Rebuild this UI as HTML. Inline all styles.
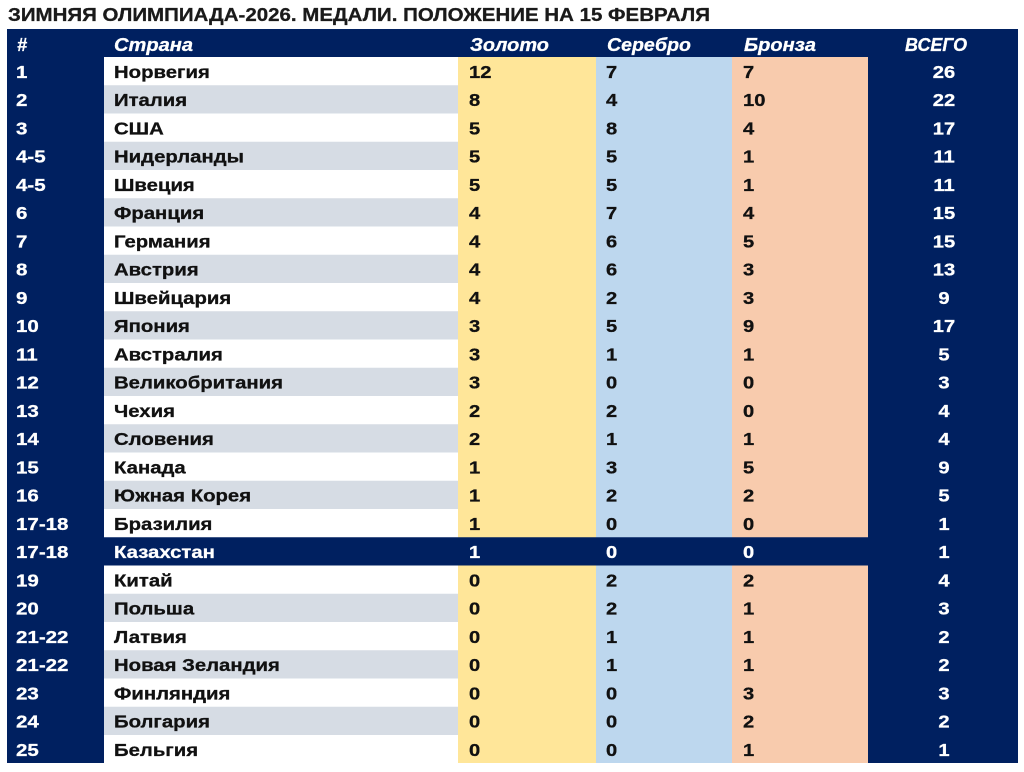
<!DOCTYPE html>
<html><head><meta charset="utf-8"><style>
html,body{margin:0;padding:0;background:#fff;}
svg{display:block;}
</style></head><body>
<svg width="1024" height="772" viewBox="0 0 1024 772" xmlns="http://www.w3.org/2000/svg" font-family="'Liberation Sans', Arial, sans-serif" font-weight="bold">
<rect x="0" y="0" width="1024" height="772" fill="#fff"/>
<text x="8" y="21" font-size="18.5" fill="#1a1a1a" stroke="#1a1a1a" stroke-width="0.3" textLength="702" lengthAdjust="spacingAndGlyphs">ЗИМНЯЯ ОЛИМПИАДА-2026. МЕДАЛИ. ПОЛОЖЕНИЕ НА 15 ФЕВРАЛЯ</text>
<rect x="7" y="29" width="1011" height="734" fill="#002060"/>
<rect x="104" y="57" width="354" height="706" fill="#ffffff"/>
<g fill="#d6dce4">
<rect x="104" y="85.25" width="354" height="28.25"/>
<rect x="104" y="141.75" width="354" height="28.25"/>
<rect x="104" y="198.25" width="354" height="28.25"/>
<rect x="104" y="254.75" width="354" height="28.25"/>
<rect x="104" y="311.25" width="354" height="28.25"/>
<rect x="104" y="367.75" width="354" height="28.25"/>
<rect x="104" y="424.25" width="354" height="28.25"/>
<rect x="104" y="480.75" width="354" height="28.25"/>
<rect x="104" y="593.75" width="354" height="28.25"/>
<rect x="104" y="650.25" width="354" height="28.25"/>
<rect x="104" y="706.75" width="354" height="28.25"/>
</g>
<rect x="458" y="57" width="138" height="706" fill="#ffe699"/>
<rect x="596" y="57" width="136" height="706" fill="#bdd7ee"/>
<rect x="732" y="57" width="136" height="706" fill="#f8cbad"/>
<rect x="104" y="537.25" width="764" height="28.25" fill="#002060"/>

<g fill="#ffffff" stroke="#ffffff" stroke-width="0.3" font-style="italic" font-size="18">
<text x="17" y="51">#</text>
<text x="114" y="51" textLength="79" lengthAdjust="spacingAndGlyphs">Страна</text>
<text x="470" y="51" textLength="79" lengthAdjust="spacingAndGlyphs">Золото</text>
<text x="607" y="51" textLength="84" lengthAdjust="spacingAndGlyphs">Серебро</text>
<text x="744" y="51" textLength="72" lengthAdjust="spacingAndGlyphs">Бронза</text>
<text x="905" y="51" textLength="62" lengthAdjust="spacingAndGlyphs">ВСЕГО</text>
</g>

<g font-size="18" stroke-width="0.3">
<!-- rank -->
<g transform="translate(16,0) scale(1.14,1)" fill="#ffffff" stroke="#ffffff">
<text x="0" y="78">1</text>
<text x="0" y="106.25">2</text>
<text x="0" y="134.5">3</text>
<text x="0" y="162.75">4-5</text>
<text x="0" y="191">4-5</text>
<text x="0" y="219.25">6</text>
<text x="0" y="247.5">7</text>
<text x="0" y="275.75">8</text>
<text x="0" y="304">9</text>
<text x="0" y="332.25">10</text>
<text x="0" y="360.5">11</text>
<text x="0" y="388.75">12</text>
<text x="0" y="417">13</text>
<text x="0" y="445.25">14</text>
<text x="0" y="473.5">15</text>
<text x="0" y="501.75">16</text>
<text x="0" y="530">17-18</text>
<text x="0" y="558.25">17-18</text>
<text x="0" y="586.5">19</text>
<text x="0" y="614.75">20</text>
<text x="0" y="643">21-22</text>
<text x="0" y="671.25">21-22</text>
<text x="0" y="699.5">23</text>
<text x="0" y="727.75">24</text>
<text x="0" y="756">25</text>
</g>
<!-- names -->
<g transform="translate(114,0) scale(1.13,1)" fill="#111111" stroke="#111111">
<text x="0" y="78">Норвегия</text>
<text x="0" y="106.25">Италия</text>
<text x="0" y="134.5">США</text>
<text x="0" y="162.75">Нидерланды</text>
<text x="0" y="191">Швеция</text>
<text x="0" y="219.25">Франция</text>
<text x="0" y="247.5">Германия</text>
<text x="0" y="275.75">Австрия</text>
<text x="0" y="304">Швейцария</text>
<text x="0" y="332.25">Япония</text>
<text x="0" y="360.5">Австралия</text>
<text x="0" y="388.75">Великобритания</text>
<text x="0" y="417">Чехия</text>
<text x="0" y="445.25">Словения</text>
<text x="0" y="473.5">Канада</text>
<text x="0" y="501.75">Южная Корея</text>
<text x="0" y="530">Бразилия</text>
<text x="0" y="558.25" fill="#ffffff" stroke="#ffffff">Казахстан</text>
<text x="0" y="586.5">Китай</text>
<text x="0" y="614.75">Польша</text>
<text x="0" y="643">Латвия</text>
<text x="0" y="671.25">Новая Зеландия</text>
<text x="0" y="699.5">Финляндия</text>
<text x="0" y="727.75">Болгария</text>
<text x="0" y="756">Бельгия</text>
</g>
<!-- gold -->
<g transform="translate(469,0) scale(1.12,1)" fill="#111111" stroke="#111111">
<text x="0" y="78">12</text>
<text x="0" y="106.25">8</text>
<text x="0" y="134.5">5</text>
<text x="0" y="162.75">5</text>
<text x="0" y="191">5</text>
<text x="0" y="219.25">4</text>
<text x="0" y="247.5">4</text>
<text x="0" y="275.75">4</text>
<text x="0" y="304">4</text>
<text x="0" y="332.25">3</text>
<text x="0" y="360.5">3</text>
<text x="0" y="388.75">3</text>
<text x="0" y="417">2</text>
<text x="0" y="445.25">2</text>
<text x="0" y="473.5">1</text>
<text x="0" y="501.75">1</text>
<text x="0" y="530">1</text>
<text x="0" y="558.25" fill="#ffffff" stroke="#ffffff">1</text>
<text x="0" y="586.5">0</text>
<text x="0" y="614.75">0</text>
<text x="0" y="643">0</text>
<text x="0" y="671.25">0</text>
<text x="0" y="699.5">0</text>
<text x="0" y="727.75">0</text>
<text x="0" y="756">0</text>
</g>
<!-- silver -->
<g transform="translate(606,0) scale(1.12,1)" fill="#111111" stroke="#111111">
<text x="0" y="78">7</text>
<text x="0" y="106.25">4</text>
<text x="0" y="134.5">8</text>
<text x="0" y="162.75">5</text>
<text x="0" y="191">5</text>
<text x="0" y="219.25">7</text>
<text x="0" y="247.5">6</text>
<text x="0" y="275.75">6</text>
<text x="0" y="304">2</text>
<text x="0" y="332.25">5</text>
<text x="0" y="360.5">1</text>
<text x="0" y="388.75">0</text>
<text x="0" y="417">2</text>
<text x="0" y="445.25">1</text>
<text x="0" y="473.5">3</text>
<text x="0" y="501.75">2</text>
<text x="0" y="530">0</text>
<text x="0" y="558.25" fill="#ffffff" stroke="#ffffff">0</text>
<text x="0" y="586.5">2</text>
<text x="0" y="614.75">2</text>
<text x="0" y="643">1</text>
<text x="0" y="671.25">1</text>
<text x="0" y="699.5">0</text>
<text x="0" y="727.75">0</text>
<text x="0" y="756">0</text>
</g>
<!-- bronze -->
<g transform="translate(743,0) scale(1.12,1)" fill="#111111" stroke="#111111">
<text x="0" y="78">7</text>
<text x="0" y="106.25">10</text>
<text x="0" y="134.5">4</text>
<text x="0" y="162.75">1</text>
<text x="0" y="191">1</text>
<text x="0" y="219.25">4</text>
<text x="0" y="247.5">5</text>
<text x="0" y="275.75">3</text>
<text x="0" y="304">3</text>
<text x="0" y="332.25">9</text>
<text x="0" y="360.5">1</text>
<text x="0" y="388.75">0</text>
<text x="0" y="417">0</text>
<text x="0" y="445.25">1</text>
<text x="0" y="473.5">5</text>
<text x="0" y="501.75">2</text>
<text x="0" y="530">0</text>
<text x="0" y="558.25" fill="#ffffff" stroke="#ffffff">0</text>
<text x="0" y="586.5">2</text>
<text x="0" y="614.75">1</text>
<text x="0" y="643">1</text>
<text x="0" y="671.25">1</text>
<text x="0" y="699.5">3</text>
<text x="0" y="727.75">2</text>
<text x="0" y="756">1</text>
</g>
<!-- totals -->
<g transform="translate(944,0) scale(1.12,1)" fill="#ffffff" stroke="#ffffff" text-anchor="middle">
<text x="0" y="78">26</text>
<text x="0" y="106.25">22</text>
<text x="0" y="134.5">17</text>
<text x="0" y="162.75">11</text>
<text x="0" y="191">11</text>
<text x="0" y="219.25">15</text>
<text x="0" y="247.5">15</text>
<text x="0" y="275.75">13</text>
<text x="0" y="304">9</text>
<text x="0" y="332.25">17</text>
<text x="0" y="360.5">5</text>
<text x="0" y="388.75">3</text>
<text x="0" y="417">4</text>
<text x="0" y="445.25">4</text>
<text x="0" y="473.5">9</text>
<text x="0" y="501.75">5</text>
<text x="0" y="530">1</text>
<text x="0" y="558.25">1</text>
<text x="0" y="586.5">4</text>
<text x="0" y="614.75">3</text>
<text x="0" y="643">2</text>
<text x="0" y="671.25">2</text>
<text x="0" y="699.5">3</text>
<text x="0" y="727.75">2</text>
<text x="0" y="756">1</text>
</g>
</g>
</svg>
</body></html>
